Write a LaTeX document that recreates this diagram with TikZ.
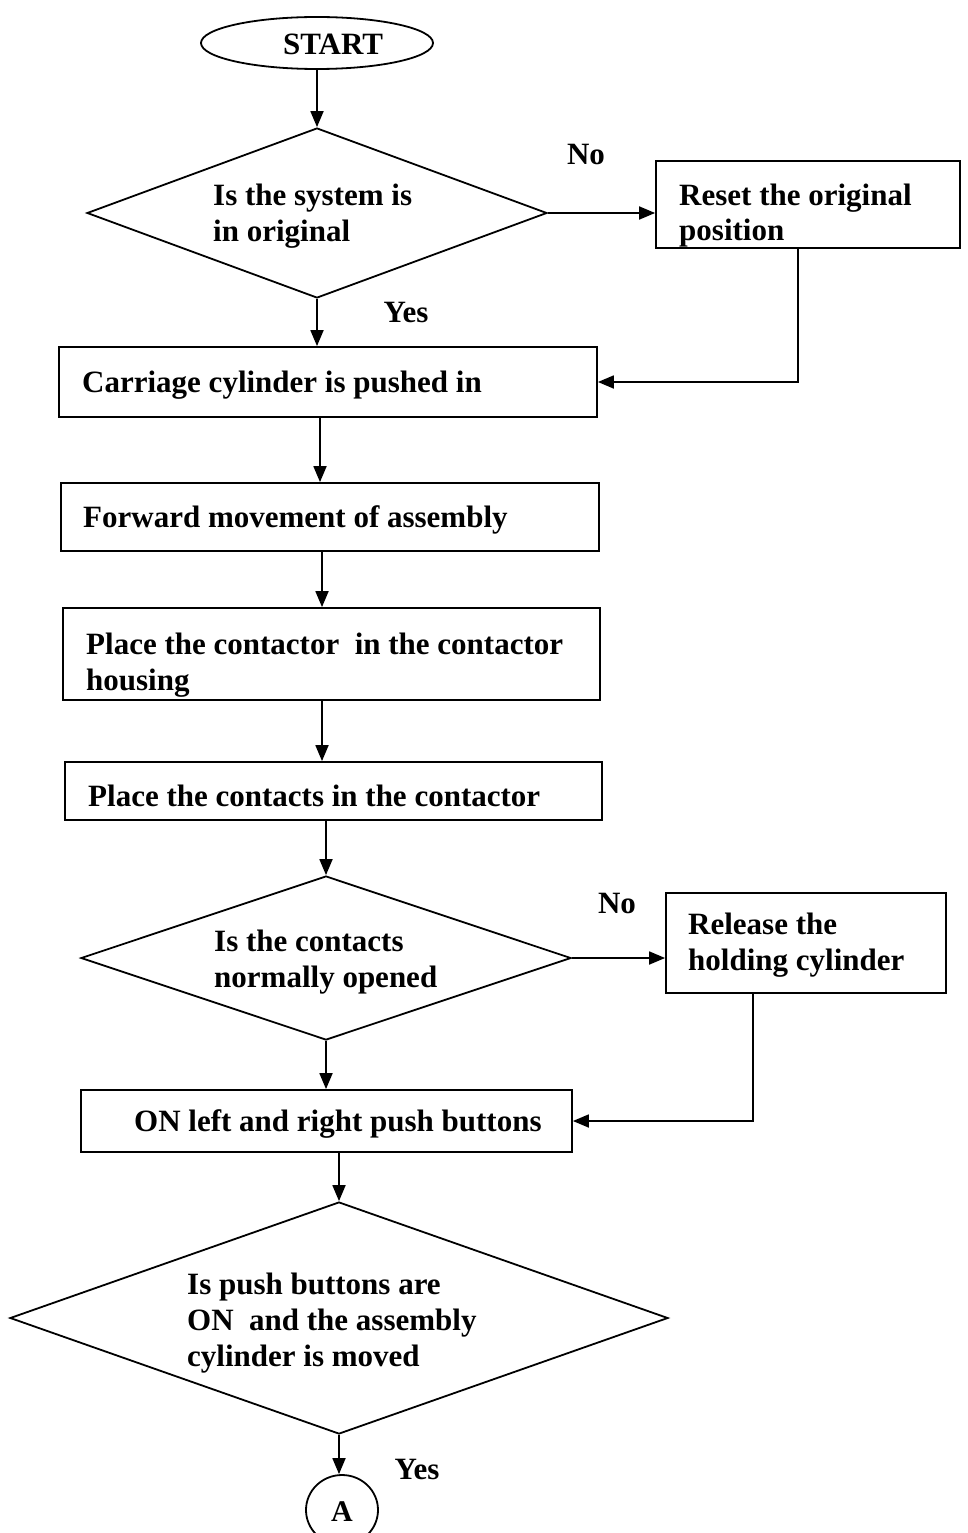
\documentclass[tikz,border=0pt]{standalone}
\usepackage{fontspec}
\setmainfont{Liberation Serif}
\usetikzlibrary{shapes.geometric,arrows.meta}
\begin{document}
\begin{tikzpicture}[x=1pt,y=-1pt,
  every node/.style={font=\fontsize{31}{35}\selectfont\bfseries},
  stepbox/.style={draw, rectangle, line width=1.8pt, inner sep=0pt},
  decision/.style={draw, diamond, line width=1.8pt, inner sep=0pt},
  terminal/.style={draw, ellipse, line width=1.8pt, inner sep=0pt},
  txt/.style={anchor=base west, inner sep=0pt},
  lbl/.style={inner sep=0pt},
  flow/.style={line width=1.8pt, -{Triangle[length=16pt,width=13pt]}}]
\useasboundingbox (0,0) rectangle (967,1533);

% shapes
\node[terminal, minimum width=232pt, minimum height=52pt] (start) at (317,43) {};
\node[decision, minimum width=460pt, minimum height=170pt] (d1) at (317,213) {};
\node[stepbox, minimum width=304pt, minimum height=87pt] (reset) at (808,204.5) {};
\node[stepbox, minimum width=538pt, minimum height=70pt] (b2) at (328,382) {};
\node[stepbox, minimum width=538pt, minimum height=68pt] (b3) at (330,517) {};
\node[stepbox, minimum width=537pt, minimum height=92pt] (b4) at (331.5,654) {};
\node[stepbox, minimum width=537pt, minimum height=58pt] (b5) at (333.5,791) {};
\node[decision, minimum width=490pt, minimum height=164pt] (d2) at (326,958) {};
\node[stepbox, minimum width=280pt, minimum height=100pt] (release) at (806,943) {};
\node[stepbox, minimum width=491pt, minimum height=62pt] (b6) at (326.5,1121) {};
\node[decision, minimum width=658pt, minimum height=232pt] (d3) at (339,1318) {};
\node[terminal, minimum width=72pt, minimum height=70pt] (conA) at (342,1510) {};

% texts
\node[lbl] (tstart) at (333,44) {START};
\node[txt] (t1a) at (213,206) {Is the system is};
\node[txt] (t1b) at (213,241) {in original};
\node[txt] (t2a) at (679,205) {Reset the original};
\node[txt] (t2b) at (679,240) {position};
\node[txt] (t3) at (82,392) {Carriage cylinder is pushed in};
\node[txt] (t4) at (83,527) {Forward movement of assembly};
\node[txt] (t5a) at (86,654) {Place the contactor\ \ in the contactor};
\node[txt] (t5b) at (86,690) {housing};
\node[txt] (t6) at (88,806) {Place the contacts in the contactor};
\node[txt] (t7a) at (214,951) {Is the contacts};
\node[txt] (t7b) at (214,987) {normally opened};
\node[txt] (t8a) at (688,934) {Release the};
\node[txt] (t8b) at (688,970) {holding cylinder};
\node[txt] (t9) at (134,1131) {ON left and right push buttons};
\node[txt] (t10a) at (187,1294) {Is push buttons are};
\node[txt] (t10b) at (187,1330) {ON\ \ and the assembly};
\node[txt] (t10c) at (187,1366) {cylinder is moved};
\node[lbl, font=\fontsize{30}{34}\selectfont\bfseries] (tA) at (342,1512) {A};

% branch labels
\node[lbl] (no1) at (586,155) {No};
\node[lbl] (yes1) at (406,313) {Yes};
\node[lbl] (no2) at (617,903) {No};
\node[lbl] (yes2) at (417,1469) {Yes};

% connectors
\draw[flow] (start.south) -- (start.south |- d1.north);
\draw[flow] (d1.east) -- (d1.east -| reset.west);
\draw[flow] (d1.south) -- (d1.south |- b2.north);
\draw[flow] ([xshift=-10pt]reset.south) |- (b2.east);
\draw[flow] ([xshift=-8pt]b2.south) -- ([xshift=-8pt]b2.south |- b3.north);
\draw[flow] ([xshift=-8pt]b3.south) -- ([xshift=-8pt]b3.south |- b4.north);
\draw[flow] ([xshift=-9.5pt]b4.south) -- ([xshift=-9.5pt]b4.south |- b5.north);
\draw[flow] (d2.north |- b5.south) -- (d2.north);
\draw[flow] (d2.east) -- (d2.east -| release.west);
\draw[flow] (d2.south) -- (d2.south |- b6.north);
\draw[flow] ([xshift=-53pt]release.south) |- (b6.east);
\draw[flow] (d3.north |- b6.south) -- (d3.north);
\draw[flow] (d3.south) -- (d3.south |- conA.north);
\end{tikzpicture}
\end{document}
